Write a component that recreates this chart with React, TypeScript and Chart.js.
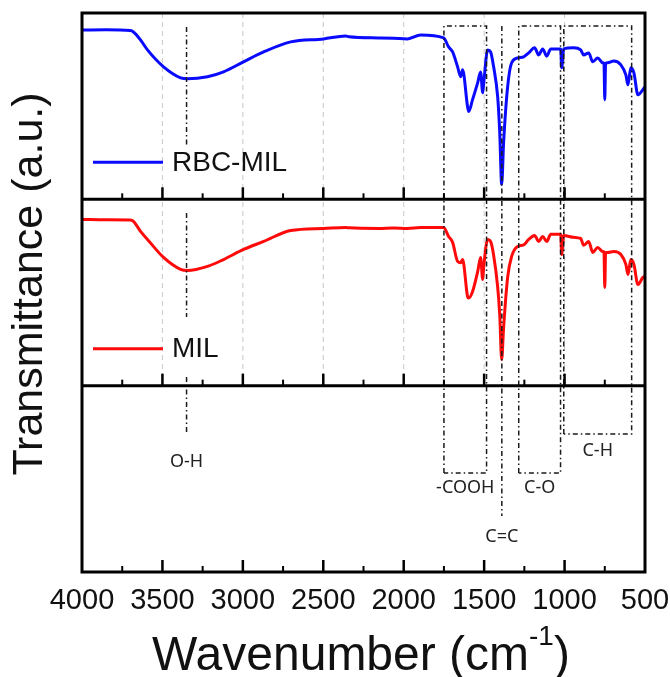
import React, { useEffect, useRef } from "react";
import { Chart, registerables } from "chart.js";

Chart.register(...registerables);

// ---- Data ----
const WAVENUMBER = [
  4000, 3850, 3700, 3680, 3636, 3593, 3493, 3387, 3344, 3220, 3120, 2996, 2871, 2703, 2498, 2361, 2340, 2156, 2063, 1976,
  1895, 1752, 1721, 1696, 1665, 1646, 1634, 1603, 1596, 1572, 1540, 1522, 1509, 1503, 1478, 1460, 1441, 1416, 1403, 1391,
  1379, 1354, 1329, 1292, 1254, 1223, 1186, 1161, 1136, 1111, 1086, 1024, 1018, 1006, 943, 900, 881, 850, 825, 794,
  763, 755, 750, 745, 732, 694, 650, 619, 606, 588, 569, 544, 513, 501,
];
// Transmittance (a.u., % of panel height)
const RBC_MIL = [
  90.9, 91.0, 90.6, 89.8, 85.5, 80.2, 71.1, 65.2, 64.7, 65.8, 68.4, 73.8, 79.1, 84.5, 86.1, 87.7, 87.2, 86.6, 86.4, 86.1,
  88.2, 86.6, 81.8, 79.1, 71.1, 65.8, 69.5, 49.7, 47.1, 53.5, 62.6, 68.4, 57.2, 62.0, 80.2, 79.1, 71.1, 55.1, 35.8, 8.0,
  30.5, 60.4, 73.3, 75.9, 76.5, 78.6, 81.3, 77.5, 80.7, 76.8, 80.7, 80.7, 70.6, 80.7, 81.3, 80.2, 77.5, 78.6, 73.8, 75.9,
  73.3, 73.0, 53.5, 73.0, 73.3, 74.3, 72.2, 66.8, 61.5, 70.6, 67.9, 56.1, 58.8, 60.4,
];
const MIL = [
  89.2, 89.0, 88.9, 88.2, 82.8, 78.5, 68.8, 62.4, 61.8, 64.0, 67.7, 73.1, 77.4, 83.3, 84.4, 84.9, 84.7, 84.4, 84.6, 84.4,
  84.9, 84.9, 80.1, 76.9, 66.7, 66.0, 67.7, 47.8, 47.0, 50.5, 61.3, 68.8, 57.0, 63.4, 78.5, 77.4, 70.0, 53.0, 38.0, 14.0,
  31.2, 58.1, 69.4, 74.7, 75.5, 78.5, 80.6, 77.4, 80.1, 77.4, 81.2, 81.2, 70.4, 80.6, 79.6, 79.0, 75.3, 77.4, 71.5, 74.2,
  72.0, 71.8, 52.7, 71.5, 71.5, 72.0, 70.4, 65.1, 59.7, 67.7, 65.1, 54.3, 58.1, 58.6,
];
const SERIES_NAMES = ["RBC-MIL", "MIL"];
const X_TICKS = [4000, 3500, 3000, 2500, 2000, 1500, 1000, 500];

// Band assignments (wavenumbers)
const OH_BAND = 3350;
const CC_BAND = 1390;
const BOX_LABELS = ["-COOH", "C-O", "C-H"];
const BOX_FROM = [1750, 1285, 1005];
const BOX_TO = [1485, 1025, 583];

// ---- Layout / style (in y-scale units: bottom panel 0-1, middle 1-2, top 2-3) ----
const ANN_TOP = 2.93;
const BOX_BOTTOM = [0.531, 0.531, 0.741];
const BOX_LABEL_Y = [0.451, 0.451, 0.649];
const CC_BOTTOM = 0.3;
const CC_LABEL_Y = 0.188;
const OH_SEGMENTS = [
  [2.925, 2.292],
  [1.927, 1.369],
  [1.047, 0.746],
];
const OH_LABEL_Y = 0.59;

const SANS = '"Liberation Sans", Arial, sans-serif';
const NOTE = '"Noto Sans", "Open Sans", sans-serif';

export default function App() {
  const ref = useRef<HTMLCanvasElement>(null);

  useEffect(() => {
    const canvas = ref.current;
    if (!canvas) return;

    const panels = [
      { offset: 2, values: RBC_MIL, color: "#0a0aff", name: SERIES_NAMES[0] },
      { offset: 1, values: MIL, color: "#ff0a0a", name: SERIES_NAMES[1] },
    ];

    const datasets = panels.map((p) => ({
      label: p.name,
      data: WAVENUMBER.map((w, i) => ({ x: w, y: p.offset + p.values[i] / 100 })),
      borderColor: p.color,
      backgroundColor: p.color,
      borderWidth: 3,
      pointRadius: 0,
      fill: false,
      cubicInterpolationMode: "monotone" as const,
    }));

    const decor = {
      id: "ftirDecor",
      beforeDatasetsDraw(chart: any) {
        const { ctx } = chart;
        const xs = chart.scales.x;
        const ys = chart.scales.y;
        ctx.save();
        ctx.strokeStyle = "#c9c9c9";
        ctx.lineWidth = 1;
        ctx.setLineDash([5, 4]);
        for (const w of X_TICKS) {
          if (w === 4000 || w === 500) continue;
          const x = xs.getPixelForValue(w);
          ctx.beginPath();
          ctx.moveTo(x, ys.getPixelForValue(3));
          ctx.lineTo(x, ys.getPixelForValue(1));
          ctx.stroke();
        }
        ctx.restore();
      },
      afterDatasetsDraw(chart: any) {
        const { ctx, chartArea: area } = chart;
        const xs = chart.scales.x;
        const ys = chart.scales.y;
        const X = (w: number) => xs.getPixelForValue(w);
        const Y = (v: number) => ys.getPixelForValue(v);
        ctx.save();

        // dash-dot band markers
        ctx.strokeStyle = "#1a1a1a";
        ctx.lineWidth = 1.5;
        ctx.setLineDash([5, 3, 1.5, 3]);
        const seg = (x1: number, y1: number, x2: number, y2: number) => {
          ctx.beginPath();
          ctx.moveTo(x1, y1);
          ctx.lineTo(x2, y2);
          ctx.stroke();
        };
        for (const [a, b] of OH_SEGMENTS) seg(X(OH_BAND), Y(a), X(OH_BAND), Y(b));
        seg(X(CC_BAND), Y(ANN_TOP), X(CC_BAND), Y(CC_BOTTOM));
        BOX_FROM.forEach((from, i) => {
          const x1 = X(from);
          const x2 = X(BOX_TO[i]);
          const yt = Y(ANN_TOP);
          const yb = Y(BOX_BOTTOM[i]);
          ctx.beginPath();
          ctx.moveTo(x1, yb);
          ctx.lineTo(x1, yt);
          ctx.lineTo(x2, yt);
          ctx.lineTo(x2, yb);
          ctx.lineTo(x1, yb);
          ctx.stroke();
        });
        ctx.setLineDash([]);

        // band labels
        ctx.fillStyle = "#222";
        ctx.font = `18px ${NOTE}`;
        ctx.textAlign = "center";
        ctx.textBaseline = "middle";
        ctx.fillText("O-H", X(OH_BAND), Y(OH_LABEL_Y));
        ctx.fillText("C=C", X(CC_BAND), Y(CC_LABEL_Y));
        BOX_LABELS.forEach((lab, i) => {
          ctx.fillText(lab, X((BOX_FROM[i] + BOX_TO[i]) / 2), Y(BOX_LABEL_Y[i]));
        });

        // frame and panel dividers
        ctx.strokeStyle = "#000";
        ctx.lineWidth = 3;
        ctx.strokeRect(area.left, area.top, area.right - area.left, area.bottom - area.top);
        for (const v of [2, 1]) {
          ctx.beginPath();
          ctx.moveTo(area.left, Y(v));
          ctx.lineTo(area.right, Y(v));
          ctx.stroke();
        }

        // inward ticks on each panel bottom
        for (const v of [2, 1, 0]) {
          const yb = Y(v);
          for (let w = 3750; w > 500; w -= 250) {
            const major = w % 500 === 0;
            ctx.lineWidth = major ? 2.5 : 2;
            ctx.beginPath();
            ctx.moveTo(X(w), yb);
            ctx.lineTo(X(w), yb - (major ? 12 : 6));
            ctx.stroke();
          }
        }

        // legends
        panels.forEach((p) => {
          const y = Y(p.offset) - 37;
          ctx.strokeStyle = p.color;
          ctx.lineWidth = 3;
          ctx.beginPath();
          ctx.moveTo(area.left + 11, y);
          ctx.lineTo(area.left + 81, y);
          ctx.stroke();
          ctx.fillStyle = "#111";
          ctx.font = `28px ${SANS}`;
          ctx.textAlign = "left";
          ctx.textBaseline = "middle";
          ctx.fillText(p.name, area.left + 90, y + 1);
        });

        // y title
        ctx.save();
        ctx.translate(30, 284);
        ctx.rotate(-Math.PI / 2);
        ctx.fillStyle = "#111";
        ctx.font = `43px ${SANS}`;
        ctx.textAlign = "center";
        ctx.textBaseline = "middle";
        ctx.fillText("Transmittance (a.u.)", 0, 0);
        ctx.restore();

        // x title with superscript
        const main1 = "Wavenumber (cm";
        const sup = "-1";
        const main2 = ")";
        ctx.fillStyle = "#111";
        ctx.textAlign = "left";
        ctx.textBaseline = "alphabetic";
        ctx.font = `48px ${SANS}`;
        const w1 = ctx.measureText(main1).width;
        const w3 = ctx.measureText(main2).width;
        ctx.font = `28px ${SANS}`;
        const w2 = ctx.measureText(sup).width;
        const total = w1 + w2 + w3;
        const startX = 361 - total / 2;
        const base = 670;
        ctx.font = `48px ${SANS}`;
        ctx.fillText(main1, startX, base);
        ctx.font = `28px ${SANS}`;
        ctx.fillText(sup, startX + w1, base - 25);
        ctx.font = `48px ${SANS}`;
        ctx.fillText(main2, startX + w1 + w2, base);

        ctx.restore();
      },
    };

    const chart = new Chart(canvas, {
      type: "line",
      data: { datasets },
      options: {
        animation: false,
        responsive: false,
        devicePixelRatio: 1,
        layout: { padding: { top: 13, right: 25, left: 0, bottom: 0 } },
        plugins: { legend: { display: false }, tooltip: { enabled: false } },
        scales: {
          x: {
            type: "linear",
            min: 500,
            max: 4000,
            reverse: true,
            afterBuildTicks: (s: any) => {
              s.ticks = X_TICKS.map((v) => ({ value: v }));
            },
            ticks: {
              font: { family: SANS, size: 29 },
              color: "#111",
              padding: 12,
              maxRotation: 0,
              autoSkip: false,
              callback: (v: any) => String(v),
            },
            grid: { display: false, drawTicks: false },
            border: { display: false },
            afterFit: (s: any) => {
              s.height = 105;
              s.paddingLeft = 0;
              s.paddingRight = 0;
            },
          },
          y: {
            type: "linear",
            min: 0,
            max: 3,
            ticks: { display: false },
            grid: { display: false, drawTicks: false },
            border: { display: false },
            afterFit: (s: any) => {
              s.width = 82;
              s.paddingTop = 0;
              s.paddingBottom = 0;
            },
          },
        },
      },
      plugins: [decor],
    } as any);

    return () => chart.destroy();
  }, []);

  return (
    <div style={{ position: "absolute", left: 0, top: 0, width: 670, height: 677, background: "#fff" }}>
      <canvas ref={ref} width={670} height={677} style={{ display: "block" }} />
    </div>
  );
}
